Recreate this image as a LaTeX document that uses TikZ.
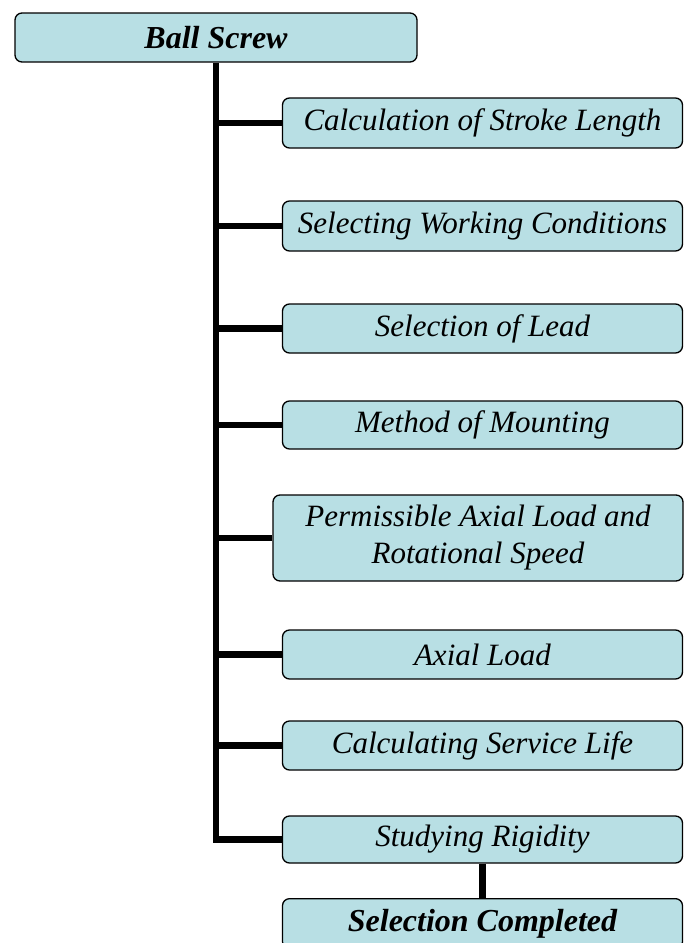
\documentclass[tikz,border=0pt]{standalone}
\usepackage{fontspec}
\setmainfont{Liberation Serif}
\definecolor{boxfill}{HTML}{B8DFE4}
\begin{document}
\begin{tikzpicture}[x=1pt,y=-1pt,
  box/.style={draw=black, line width=1.3pt, fill=boxfill, rounded corners=7pt,
    inner sep=0pt, minimum width=400pt, minimum height=49pt,
    font=\fontsize{31}{37}\selectfont\itshape, align=center},
  boldbox/.style={box, font=\fontsize{32}{37}\selectfont\bfseries\itshape},
  link/.style={line width=6.5pt}]
\useasboundingbox (0,0) rectangle (688,943);
\clip (0,0) rectangle (688,943);
\node[boldbox, minimum width=402pt] (bs) at (216,37.5) {Ball Screw};
\node[box, minimum height=50pt] (b1) at (482.5,123) {Calculation of Stroke Length};
\node[box, minimum height=50pt] (b2) at (482.5,226) {Selecting Working Conditions};
\node[box] (b3) at (482.5,328.5) {Selection of Lead};
\node[box, minimum height=48pt] (b4) at (482.5,425) {Method of Mounting};
\node[box, minimum width=410pt, minimum height=86pt] (b5) at (478,538) {Permissible Axial Load and\\Rotational Speed};
\node[box] (b6) at (482.5,654.5) {Axial Load};
\node[box] (b7) at (482.5,745.5) {Calculating Service Life};
\node[box, minimum height=47pt] (b8) at (482.5,839.5) {Studying Rigidity};
\node[boldbox, minimum height=50pt, anchor=north] (b9) at (482.5,898) {Selection Completed};
\draw[link] (bs.south) |- (b8.west);
\foreach \n in {b1,b2,b3,b4,b5,b6,b7}{
  \draw[link] (\n.west) -- (\n.west -| bs.south);
}
\draw[link] (b8.south) -- (b9.north);
\end{tikzpicture}
\end{document}
